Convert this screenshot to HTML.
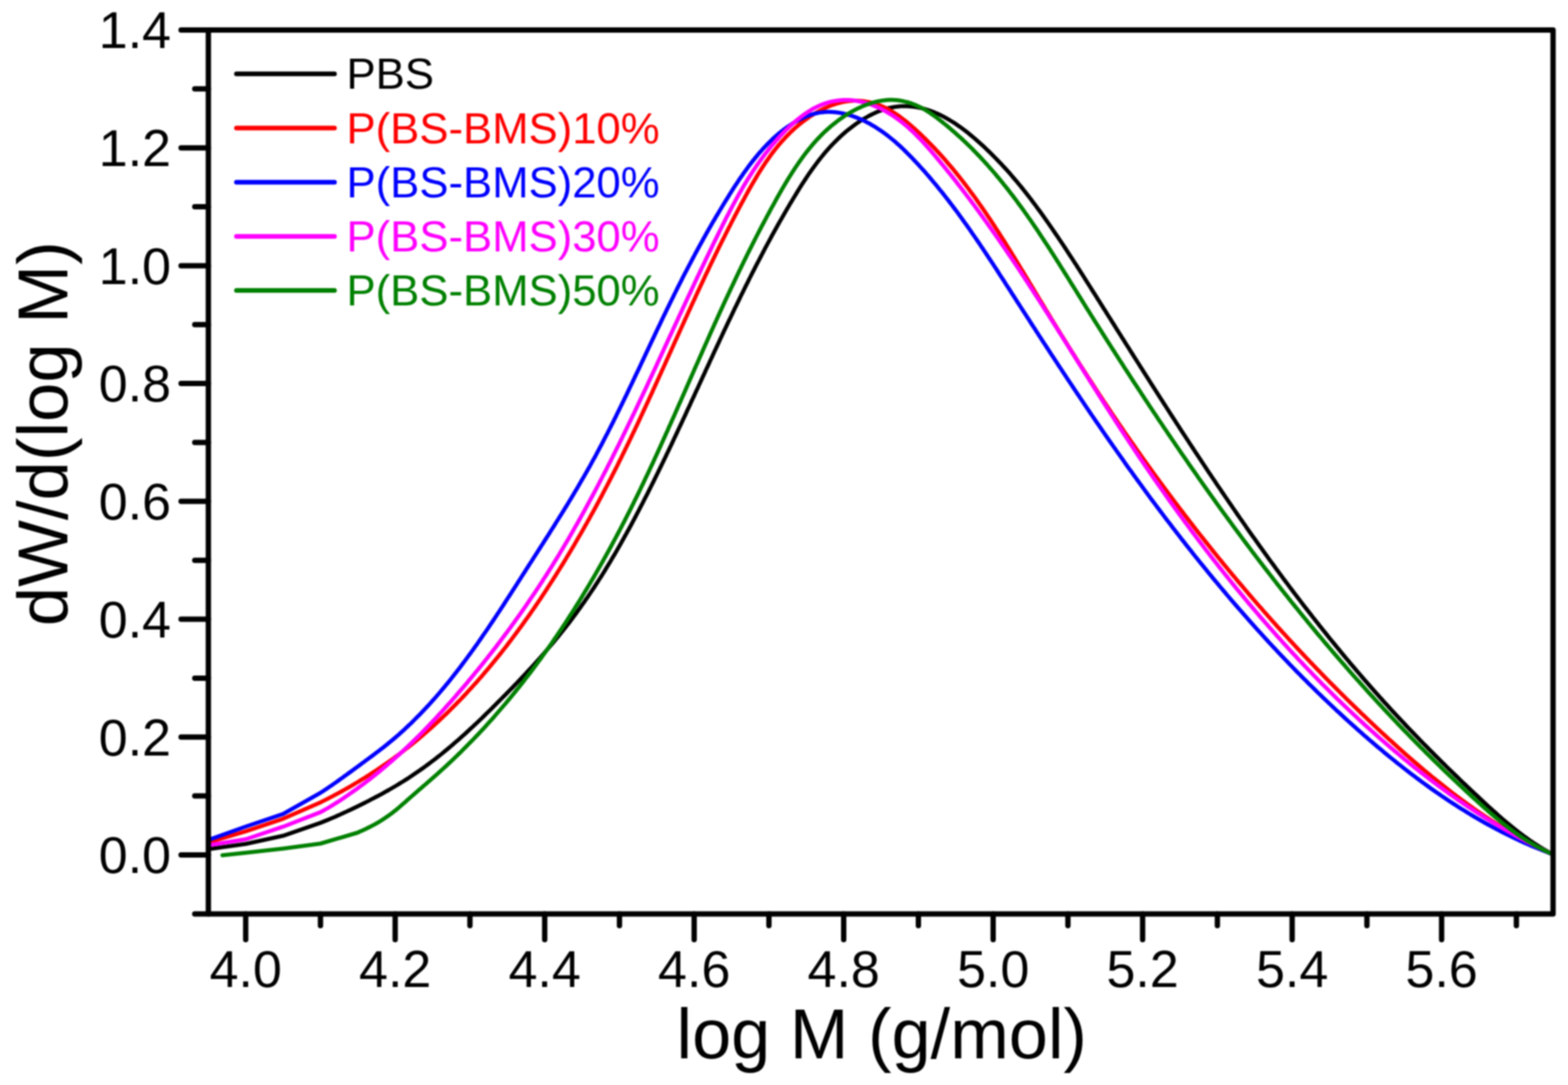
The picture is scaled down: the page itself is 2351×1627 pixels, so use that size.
<!DOCTYPE html>
<html><head><meta charset="utf-8"><title>GPC curves</title>
<style>html,body{margin:0;padding:0;background:#fff;}svg{display:block;filter:blur(0.9px);}</style></head>
<body>
<svg width="2351" height="1627" viewBox="0 0 2351 1627" font-family="Liberation Sans, Arial, sans-serif"><clipPath id="c"><rect x="312.4" y="45.0" width="2016.1999999999998" height="1325.4"/></clipPath>
<g clip-path="url(#c)" fill="none" stroke-width="6" stroke-linejoin="round" stroke-linecap="round">
<path stroke="#000000" d="M313.0,1273.3 L368.4,1265.5 L424.4,1253.3 L480.5,1233.9 L484.2,1232.4 L487.9,1230.9 L491.6,1229.4 L495.3,1227.8 L499.0,1226.3 L502.7,1224.7 L506.3,1223.0 L510.0,1221.4 L513.6,1219.7 L517.3,1218.1 L520.9,1216.4 L524.5,1214.7 L528.2,1213.0 L531.8,1211.2 L535.4,1209.5 L539.0,1207.7 L542.5,1206.0 L546.1,1204.2 L549.7,1202.4 L553.2,1200.6 L556.8,1198.7 L560.3,1196.9 L563.8,1195.0 L567.4,1193.2 L570.9,1191.3 L574.4,1189.4 L577.8,1187.4 L581.3,1185.5 L584.8,1183.5 L588.2,1181.5 L591.7,1179.5 L595.1,1177.5 L598.5,1175.4 L601.9,1173.3 L605.3,1171.2 L608.6,1169.1 L612.0,1166.9 L615.3,1164.8 L618.6,1162.6 L621.9,1160.3 L625.2,1158.1 L628.5,1155.8 L631.7,1153.5 L635.0,1151.2 L638.2,1148.9 L641.4,1146.5 L644.6,1144.1 L647.8,1141.7 L650.9,1139.3 L654.1,1136.9 L657.2,1134.4 L660.3,1132.0 L663.4,1129.5 L666.5,1126.9 L669.6,1124.4 L672.6,1121.9 L675.7,1119.3 L678.7,1116.7 L681.7,1114.1 L684.7,1111.5 L687.7,1108.9 L690.7,1106.2 L693.7,1103.6 L696.7,1100.9 L699.6,1098.2 L702.6,1095.5 L705.5,1092.8 L708.4,1090.1 L711.4,1087.3 L714.3,1084.6 L717.2,1081.8 L720.1,1079.1 L723.0,1076.3 L725.9,1073.5 L728.7,1070.7 L731.6,1067.9 L734.5,1065.1 L737.3,1062.3 L740.2,1059.4 L743.0,1056.6 L745.9,1053.7 L748.7,1050.9 L751.6,1048.0 L754.4,1045.2 L757.2,1042.3 L760.1,1039.4 L762.9,1036.5 L765.7,1033.7 L768.5,1030.8 L771.3,1027.9 L774.1,1025.0 L776.9,1022.0 L779.7,1019.1 L782.5,1016.2 L785.2,1013.3 L788.0,1010.3 L790.7,1007.4 L793.5,1004.4 L796.2,1001.4 L798.9,998.5 L801.6,995.5 L804.3,992.5 L807.0,989.5 L809.7,986.5 L812.3,983.5 L815.0,980.5 L817.6,977.5 L820.2,974.4 L822.8,971.4 L825.4,968.4 L828.0,965.3 L830.6,962.2 L833.1,959.2 L835.6,956.1 L838.1,953.0 L840.6,949.9 L843.1,946.8 L845.6,943.7 L848.0,940.6 L850.5,937.4 L852.9,934.3 L855.3,931.1 L857.7,928.0 L860.0,924.8 L862.4,921.6 L864.7,918.4 L867.0,915.3 L869.4,912.0 L871.6,908.8 L873.9,905.6 L876.2,902.4 L878.4,899.1 L880.7,895.9 L882.9,892.6 L885.1,889.4 L887.3,886.1 L889.5,882.8 L891.7,879.5 L893.8,876.2 L896.0,872.8 L898.1,869.5 L900.3,866.2 L902.4,862.8 L904.5,859.5 L906.6,856.1 L908.7,852.7 L910.7,849.3 L912.8,845.9 L914.9,842.5 L916.9,839.1 L918.9,835.6 L921.0,832.2 L923.0,828.7 L925.0,825.3 L927.0,821.8 L929.0,818.3 L931.0,814.8 L932.9,811.3 L934.9,807.8 L936.8,804.3 L938.8,800.8 L940.7,797.3 L942.7,793.7 L944.6,790.2 L946.5,786.7 L948.4,783.1 L950.3,779.6 L952.2,776.0 L954.1,772.4 L955.9,768.9 L957.8,765.3 L959.7,761.7 L961.5,758.2 L963.4,754.6 L965.2,751.0 L967.0,747.4 L968.9,743.8 L970.7,740.3 L972.5,736.7 L974.3,733.1 L976.1,729.5 L977.9,725.9 L979.7,722.3 L981.5,718.7 L983.2,715.1 L985.0,711.5 L986.8,707.9 L988.5,704.3 L990.3,700.7 L992.0,697.1 L993.8,693.5 L995.5,689.9 L997.3,686.2 L999.0,682.6 L1000.7,679.0 L1002.5,675.4 L1004.2,671.8 L1005.9,668.2 L1007.6,664.6 L1009.3,660.9 L1011.0,657.3 L1012.7,653.7 L1014.4,650.1 L1016.1,646.4 L1017.8,642.8 L1019.5,639.2 L1021.2,635.6 L1022.9,632.0 L1024.6,628.3 L1026.3,624.7 L1028.0,621.1 L1029.6,617.5 L1031.3,613.8 L1033.0,610.2 L1034.7,606.6 L1036.3,602.9 L1038.0,599.3 L1039.7,595.7 L1041.4,592.1 L1043.0,588.4 L1044.7,584.8 L1046.4,581.2 L1048.0,577.6 L1049.7,573.9 L1051.4,570.3 L1053.0,566.7 L1054.7,563.1 L1056.4,559.4 L1058.0,555.8 L1059.7,552.2 L1061.4,548.6 L1063.1,544.9 L1064.7,541.3 L1066.4,537.7 L1068.1,534.1 L1069.7,530.5 L1071.4,526.8 L1073.1,523.2 L1074.8,519.6 L1076.5,516.0 L1078.2,512.4 L1079.8,508.8 L1081.5,505.2 L1083.2,501.5 L1084.9,497.9 L1086.6,494.3 L1088.3,490.7 L1090.0,487.1 L1091.7,483.5 L1093.4,479.9 L1095.2,476.3 L1096.9,472.7 L1098.6,469.1 L1100.3,465.5 L1102.0,461.9 L1103.8,458.4 L1105.5,454.8 L1107.3,451.2 L1109.0,447.6 L1110.7,444.0 L1112.5,440.4 L1114.3,436.9 L1116.0,433.3 L1117.8,429.7 L1119.6,426.1 L1121.4,422.6 L1123.1,419.0 L1124.9,415.5 L1126.7,411.9 L1128.5,408.3 L1130.4,404.8 L1132.2,401.2 L1134.0,397.7 L1135.8,394.1 L1137.7,390.6 L1139.5,387.1 L1141.4,383.5 L1143.2,380.0 L1145.1,376.5 L1146.9,372.9 L1148.8,369.4 L1150.7,365.9 L1152.6,362.4 L1154.5,358.8 L1156.4,355.3 L1158.3,351.8 L1160.3,348.3 L1162.2,344.8 L1164.2,341.3 L1166.1,337.8 L1168.1,334.3 L1170.0,330.9 L1172.0,327.4 L1174.0,323.9 L1176.0,320.4 L1178.0,317.0 L1180.0,313.5 L1182.1,310.0 L1184.1,306.6 L1186.2,303.1 L1188.2,299.7 L1190.3,296.2 L1192.4,292.8 L1194.5,289.4 L1196.6,285.9 L1198.7,282.5 L1200.8,279.1 L1203.0,275.7 L1205.2,272.4 L1207.4,269.0 L1209.6,265.7 L1211.8,262.3 L1214.1,259.0 L1216.4,255.7 L1218.7,252.5 L1221.1,249.2 L1223.5,246.0 L1225.9,242.8 L1228.3,239.7 L1230.8,236.5 L1233.3,233.4 L1235.8,230.3 L1238.4,227.3 L1241.1,224.3 L1243.7,221.3 L1246.4,218.4 L1249.2,215.5 L1252.0,212.6 L1254.8,209.8 L1257.7,207.0 L1260.6,204.3 L1263.6,201.6 L1266.6,198.9 L1269.7,196.3 L1272.8,193.8 L1276.0,191.3 L1279.3,188.8 L1282.6,186.4 L1285.9,184.1 L1289.3,181.8 L1292.8,179.6 L1296.2,177.5 L1299.8,175.5 L1303.3,173.5 L1306.9,171.7 L1310.6,169.9 L1314.2,168.3 L1317.9,166.8 L1321.6,165.4 L1325.4,164.1 L1329.1,163.0 L1332.9,162.0 L1336.7,161.2 L1340.5,160.5 L1344.3,159.9 L1348.1,159.5 L1351.9,159.3 L1355.8,159.2 L1359.6,159.2 L1363.4,159.4 L1367.2,159.7 L1371.0,160.2 L1374.8,160.8 L1378.6,161.5 L1382.4,162.4 L1386.1,163.4 L1389.8,164.5 L1393.5,165.7 L1397.2,167.0 L1400.8,168.4 L1404.5,170.0 L1408.1,171.6 L1411.6,173.3 L1415.2,175.2 L1418.7,177.1 L1422.2,179.1 L1425.7,181.2 L1429.1,183.3 L1432.6,185.6 L1436.0,187.9 L1439.3,190.2 L1442.7,192.7 L1446.0,195.1 L1449.3,197.7 L1452.5,200.2 L1455.7,202.9 L1458.9,205.5 L1462.1,208.2 L1465.2,211.0 L1468.3,213.7 L1471.4,216.5 L1474.5,219.3 L1477.5,222.1 L1480.4,225.0 L1483.4,227.8 L1486.3,230.7 L1489.2,233.6 L1492.1,236.5 L1494.9,239.4 L1497.7,242.3 L1500.5,245.2 L1503.3,248.2 L1506.0,251.1 L1508.7,254.1 L1511.4,257.1 L1514.1,260.1 L1516.7,263.1 L1519.3,266.2 L1521.9,269.2 L1524.5,272.2 L1527.0,275.3 L1529.6,278.4 L1532.1,281.5 L1534.6,284.6 L1537.0,287.7 L1539.5,290.8 L1541.9,293.9 L1544.3,297.0 L1546.8,300.2 L1549.1,303.4 L1551.5,306.5 L1553.9,309.7 L1556.2,312.9 L1558.6,316.1 L1560.9,319.3 L1563.2,322.5 L1565.5,325.7 L1567.8,328.9 L1570.1,332.2 L1572.3,335.4 L1574.6,338.7 L1576.8,341.9 L1579.1,345.2 L1581.3,348.5 L1583.5,351.7 L1585.8,355.0 L1588.0,358.3 L1590.2,361.6 L1592.4,364.9 L1594.6,368.2 L1596.8,371.5 L1599.0,374.9 L1601.1,378.2 L1603.3,381.5 L1605.5,384.9 L1607.7,388.2 L1609.8,391.5 L1612.0,394.9 L1614.2,398.2 L1616.3,401.6 L1618.5,404.9 L1620.6,408.3 L1622.8,411.7 L1624.9,415.0 L1627.0,418.4 L1629.2,421.8 L1631.3,425.1 L1633.4,428.5 L1635.6,431.9 L1637.7,435.3 L1639.8,438.7 L1642.0,442.0 L1644.1,445.4 L1646.2,448.8 L1648.4,452.2 L1650.5,455.6 L1652.6,458.9 L1654.7,462.3 L1656.9,465.7 L1659.0,469.1 L1661.1,472.5 L1663.3,475.9 L1665.4,479.2 L1667.5,482.6 L1669.7,486.0 L1671.8,489.4 L1673.9,492.8 L1676.0,496.2 L1678.2,499.6 L1680.3,502.9 L1682.4,506.3 L1684.6,509.7 L1686.7,513.1 L1688.8,516.5 L1691.0,519.9 L1693.1,523.2 L1695.2,526.6 L1697.4,530.0 L1699.5,533.4 L1701.7,536.8 L1703.8,540.2 L1705.9,543.5 L1708.1,546.9 L1710.2,550.3 L1712.4,553.7 L1714.5,557.1 L1716.6,560.4 L1718.8,563.8 L1720.9,567.2 L1723.1,570.6 L1725.2,574.0 L1727.4,577.3 L1729.5,580.7 L1731.7,584.1 L1733.8,587.4 L1736.0,590.8 L1738.1,594.2 L1740.3,597.6 L1742.5,600.9 L1744.6,604.3 L1746.8,607.7 L1748.9,611.0 L1751.1,614.4 L1753.3,617.8 L1755.4,621.1 L1757.6,624.5 L1759.8,627.9 L1761.9,631.2 L1764.1,634.6 L1766.3,637.9 L1768.5,641.3 L1770.6,644.7 L1772.8,648.0 L1775.0,651.4 L1777.2,654.7 L1779.4,658.1 L1781.6,661.4 L1783.8,664.8 L1786.0,668.1 L1788.2,671.5 L1790.4,674.8 L1792.5,678.1 L1794.8,681.5 L1797.0,684.8 L1799.2,688.2 L1801.4,691.5 L1803.6,694.8 L1805.8,698.2 L1808.0,701.5 L1810.2,704.8 L1812.4,708.2 L1814.7,711.5 L1816.9,714.8 L1819.1,718.1 L1821.4,721.4 L1823.6,724.8 L1825.8,728.1 L1828.1,731.4 L1830.3,734.7 L1832.5,738.0 L1834.8,741.3 L1837.0,744.6 L1839.3,747.9 L1841.5,751.2 L1843.8,754.5 L1846.1,757.8 L1848.3,761.1 L1850.6,764.4 L1852.9,767.7 L1855.1,771.0 L1857.4,774.3 L1859.7,777.6 L1862.0,780.8 L1864.3,784.1 L1866.6,787.4 L1868.8,790.7 L1871.1,793.9 L1873.4,797.2 L1875.7,800.5 L1878.0,803.7 L1880.4,807.0 L1882.7,810.3 L1885.0,813.5 L1887.3,816.8 L1889.6,820.0 L1892.0,823.3 L1894.3,826.5 L1896.6,829.7 L1899.0,833.0 L1901.3,836.2 L1903.6,839.5 L1906.0,842.7 L1908.4,845.9 L1910.7,849.1 L1913.1,852.4 L1915.4,855.6 L1917.8,858.8 L1920.2,862.0 L1922.6,865.2 L1924.9,868.4 L1927.3,871.6 L1929.7,874.8 L1932.1,878.0 L1934.5,881.2 L1936.9,884.4 L1939.3,887.6 L1941.7,890.8 L1944.1,893.9 L1946.6,897.1 L1949.0,900.3 L1951.4,903.5 L1953.8,906.6 L1956.3,909.8 L1958.7,912.9 L1961.2,916.1 L1963.6,919.2 L1966.1,922.4 L1968.5,925.5 L1971.0,928.7 L1973.5,931.8 L1976.0,934.9 L1978.4,938.1 L1980.9,941.2 L1983.4,944.3 L1985.9,947.4 L1988.4,950.5 L1990.9,953.7 L1993.4,956.8 L1995.9,959.9 L1998.5,963.0 L2001.0,966.0 L2003.5,969.1 L2006.0,972.2 L2008.6,975.3 L2011.1,978.4 L2013.7,981.5 L2016.2,984.5 L2018.8,987.6 L2021.4,990.6 L2023.9,993.7 L2026.5,996.7 L2029.1,999.8 L2031.7,1002.8 L2034.3,1005.9 L2036.9,1008.9 L2039.5,1011.9 L2042.1,1015.0 L2044.7,1018.0 L2047.3,1021.0 L2050.0,1024.0 L2052.6,1027.0 L2055.2,1030.0 L2057.9,1033.0 L2060.5,1036.0 L2063.2,1039.0 L2065.9,1042.0 L2068.5,1045.0 L2071.2,1047.9 L2073.9,1050.9 L2076.6,1053.9 L2079.3,1056.8 L2082.0,1059.8 L2084.7,1062.7 L2087.4,1065.7 L2090.1,1068.6 L2092.8,1071.5 L2095.6,1074.5 L2098.3,1077.4 L2101.0,1080.3 L2103.8,1083.2 L2106.5,1086.1 L2109.3,1089.1 L2112.1,1092.0 L2114.8,1094.9 L2117.6,1097.7 L2120.4,1100.6 L2123.2,1103.5 L2126.0,1106.4 L2128.7,1109.3 L2131.5,1112.1 L2134.3,1115.0 L2137.2,1117.9 L2140.0,1120.7 L2142.8,1123.6 L2145.6,1126.4 L2148.4,1129.2 L2151.3,1132.1 L2154.1,1134.9 L2156.9,1137.7 L2159.8,1140.6 L2162.6,1143.4 L2165.5,1146.2 L2168.3,1149.0 L2171.2,1151.8 L2174.1,1154.6 L2176.9,1157.4 L2179.8,1160.2 L2182.7,1163.0 L2185.6,1165.7 L2188.4,1168.5 L2191.3,1171.3 L2194.2,1174.1 L2197.1,1176.8 L2200.0,1179.6 L2202.9,1182.3 L2205.8,1185.1 L2208.7,1187.8 L2211.6,1190.6 L2214.6,1193.3 L2217.5,1196.0 L2220.4,1198.7 L2223.3,1201.5 L2226.2,1204.2 L2229.2,1206.9 L2232.1,1209.6 L2235.1,1212.3 L2238.0,1215.0 L2241.0,1217.6 L2244.0,1220.3 L2246.9,1222.9 L2249.9,1225.6 L2252.9,1228.2 L2256.0,1230.8 L2259.0,1233.3 L2262.1,1235.9 L2265.1,1238.4 L2268.2,1240.9 L2271.3,1243.4 L2274.5,1245.9 L2277.6,1248.3 L2280.8,1250.7 L2284.0,1253.1 L2287.2,1255.5 L2290.4,1257.8 L2293.7,1260.1 L2297.0,1262.3 L2300.3,1264.6 L2303.7,1266.8 L2307.0,1268.9 L2310.5,1271.0 L2313.9,1273.1 L2317.4,1275.1 L2320.9,1277.1 L2324.4,1279.1 L2328.0,1281.0"/>
<path stroke="#ff0000" d="M313.0,1263.0 L368.4,1246.6 L424.4,1227.8 L480.5,1203.2 L484.1,1201.4 L487.7,1199.6 L491.3,1197.8 L494.8,1195.9 L498.4,1194.1 L501.9,1192.2 L505.4,1190.3 L509.0,1188.4 L512.5,1186.5 L516.0,1184.5 L519.4,1182.6 L522.9,1180.6 L526.4,1178.6 L529.8,1176.6 L533.2,1174.5 L536.7,1172.5 L540.1,1170.4 L543.5,1168.3 L546.9,1166.2 L550.2,1164.1 L553.6,1162.0 L556.9,1159.8 L560.3,1157.6 L563.6,1155.5 L566.9,1153.3 L570.2,1151.0 L573.5,1148.8 L576.7,1146.5 L580.0,1144.3 L583.3,1142.0 L586.5,1139.7 L589.7,1137.4 L592.9,1135.0 L596.1,1132.7 L599.3,1130.3 L602.5,1127.9 L605.6,1125.5 L608.8,1123.0 L611.9,1120.6 L615.0,1118.1 L618.1,1115.6 L621.2,1113.1 L624.3,1110.6 L627.3,1108.1 L630.4,1105.5 L633.4,1102.9 L636.4,1100.3 L639.4,1097.7 L642.4,1095.1 L645.4,1092.4 L648.4,1089.8 L651.4,1087.1 L654.3,1084.4 L657.2,1081.7 L660.1,1078.9 L663.0,1076.2 L665.9,1073.4 L668.8,1070.7 L671.7,1067.9 L674.5,1065.1 L677.4,1062.2 L680.2,1059.4 L683.0,1056.6 L685.8,1053.7 L688.6,1050.8 L691.4,1048.0 L694.1,1045.1 L696.9,1042.2 L699.6,1039.2 L702.3,1036.3 L705.1,1033.3 L707.8,1030.4 L710.4,1027.4 L713.1,1024.4 L715.8,1021.4 L718.4,1018.4 L721.1,1015.4 L723.7,1012.4 L726.3,1009.3 L728.9,1006.3 L731.5,1003.2 L734.1,1000.1 L736.7,997.0 L739.2,993.9 L741.8,990.8 L744.3,987.7 L746.8,984.6 L749.3,981.5 L751.8,978.3 L754.3,975.2 L756.8,972.0 L759.3,968.8 L761.7,965.6 L764.2,962.4 L766.6,959.2 L769.0,956.0 L771.4,952.8 L773.8,949.6 L776.2,946.4 L778.6,943.1 L781.0,939.9 L783.4,936.6 L785.7,933.3 L788.0,930.1 L790.4,926.8 L792.7,923.5 L795.0,920.2 L797.3,916.9 L799.6,913.6 L801.9,910.3 L804.1,907.0 L806.4,903.6 L808.6,900.3 L810.9,897.0 L813.1,893.6 L815.3,890.3 L817.6,886.9 L819.8,883.5 L821.9,880.2 L824.1,876.8 L826.3,873.4 L828.5,870.1 L830.6,866.7 L832.8,863.3 L834.9,859.9 L837.0,856.5 L839.2,853.1 L841.3,849.7 L843.4,846.3 L845.5,842.9 L847.6,839.5 L849.6,836.0 L851.7,832.6 L853.8,829.2 L855.8,825.8 L857.9,822.3 L859.9,818.9 L861.9,815.5 L863.9,812.0 L865.9,808.6 L867.9,805.1 L869.9,801.7 L871.9,798.2 L873.9,794.8 L875.9,791.3 L877.8,787.8 L879.8,784.4 L881.7,780.9 L883.7,777.4 L885.6,773.9 L887.5,770.5 L889.5,767.0 L891.4,763.5 L893.3,760.0 L895.2,756.5 L897.1,753.0 L898.9,749.5 L900.8,746.0 L902.7,742.5 L904.5,738.9 L906.4,735.4 L908.2,731.9 L910.1,728.4 L911.9,724.9 L913.7,721.3 L915.6,717.8 L917.4,714.2 L919.2,710.7 L921.0,707.2 L922.8,703.6 L924.6,700.1 L926.4,696.5 L928.1,692.9 L929.9,689.4 L931.7,685.8 L933.4,682.2 L935.2,678.7 L936.9,675.1 L938.7,671.5 L940.4,667.9 L942.2,664.4 L943.9,660.8 L945.6,657.2 L947.3,653.6 L949.0,650.0 L950.8,646.4 L952.5,642.8 L954.2,639.2 L955.9,635.6 L957.6,632.0 L959.3,628.4 L960.9,624.8 L962.6,621.2 L964.3,617.5 L966.0,613.9 L967.7,610.3 L969.3,606.7 L971.0,603.1 L972.7,599.4 L974.3,595.8 L976.0,592.2 L977.7,588.6 L979.3,584.9 L981.0,581.3 L982.6,577.7 L984.3,574.0 L985.9,570.4 L987.6,566.8 L989.2,563.1 L990.9,559.5 L992.5,555.8 L994.2,552.2 L995.8,548.6 L997.5,544.9 L999.1,541.3 L1000.8,537.6 L1002.4,534.0 L1004.1,530.3 L1005.7,526.7 L1007.3,523.0 L1009.0,519.4 L1010.6,515.8 L1012.3,512.1 L1013.9,508.5 L1015.6,504.8 L1017.2,501.2 L1018.9,497.5 L1020.5,493.9 L1022.2,490.2 L1023.8,486.6 L1025.5,482.9 L1027.1,479.3 L1028.8,475.7 L1030.5,472.0 L1032.1,468.4 L1033.8,464.7 L1035.5,461.1 L1037.1,457.4 L1038.8,453.8 L1040.5,450.2 L1042.2,446.5 L1043.8,442.9 L1045.5,439.2 L1047.2,435.6 L1048.9,432.0 L1050.6,428.3 L1052.3,424.7 L1054.0,421.1 L1055.7,417.5 L1057.4,413.8 L1059.1,410.2 L1060.9,406.6 L1062.6,403.0 L1064.3,399.3 L1066.0,395.7 L1067.8,392.1 L1069.5,388.5 L1071.3,384.9 L1073.0,381.3 L1074.8,377.7 L1076.6,374.0 L1078.3,370.4 L1080.1,366.8 L1081.9,363.2 L1083.7,359.6 L1085.5,356.1 L1087.3,352.5 L1089.1,348.9 L1090.9,345.3 L1092.7,341.7 L1094.6,338.1 L1096.4,334.5 L1098.2,331.0 L1100.1,327.4 L1101.9,323.8 L1103.8,320.3 L1105.7,316.7 L1107.6,313.1 L1109.4,309.6 L1111.3,306.0 L1113.2,302.5 L1115.2,299.0 L1117.1,295.4 L1119.0,291.9 L1121.0,288.3 L1122.9,284.8 L1124.9,281.3 L1126.9,277.8 L1128.9,274.3 L1130.9,270.9 L1133.0,267.4 L1135.0,264.0 L1137.1,260.5 L1139.2,257.1 L1141.3,253.8 L1143.5,250.4 L1145.7,247.1 L1147.9,243.7 L1150.2,240.5 L1152.5,237.2 L1154.8,234.0 L1157.1,230.8 L1159.5,227.6 L1161.9,224.5 L1164.4,221.4 L1166.9,218.3 L1169.5,215.3 L1172.1,212.3 L1174.7,209.4 L1177.4,206.5 L1180.1,203.6 L1182.9,200.8 L1185.7,198.0 L1188.6,195.3 L1191.5,192.6 L1194.5,190.0 L1197.5,187.4 L1200.6,184.9 L1203.8,182.4 L1207.0,180.0 L1210.3,177.7 L1213.6,175.4 L1217.0,173.1 L1220.5,171.0 L1224.0,168.9 L1227.6,166.9 L1231.2,164.9 L1234.8,163.1 L1238.5,161.4 L1242.3,159.7 L1246.0,158.2 L1249.8,156.9 L1253.7,155.6 L1257.5,154.5 L1261.4,153.6 L1265.3,152.7 L1269.1,152.1 L1273.0,151.6 L1276.9,151.3 L1280.8,151.1 L1284.7,151.1 L1288.6,151.2 L1292.4,151.5 L1296.3,152.0 L1300.1,152.6 L1303.9,153.3 L1307.6,154.2 L1311.4,155.3 L1315.0,156.5 L1318.7,157.8 L1322.3,159.3 L1325.9,160.9 L1329.4,162.7 L1332.9,164.5 L1336.3,166.5 L1339.7,168.6 L1343.1,170.8 L1346.5,173.0 L1349.8,175.4 L1353.0,177.8 L1356.3,180.3 L1359.5,182.9 L1362.6,185.5 L1365.8,188.2 L1368.9,190.9 L1372.0,193.6 L1375.0,196.4 L1378.0,199.2 L1381.0,202.0 L1383.9,204.9 L1386.9,207.7 L1389.8,210.6 L1392.6,213.5 L1395.5,216.4 L1398.3,219.3 L1401.1,222.2 L1403.9,225.2 L1406.6,228.1 L1409.3,231.1 L1412.0,234.1 L1414.7,237.1 L1417.4,240.1 L1420.0,243.2 L1422.6,246.2 L1425.2,249.3 L1427.8,252.3 L1430.4,255.4 L1432.9,258.5 L1435.4,261.6 L1437.9,264.7 L1440.4,267.8 L1442.9,271.0 L1445.3,274.1 L1447.7,277.3 L1450.2,280.5 L1452.6,283.7 L1454.9,286.9 L1457.3,290.1 L1459.7,293.3 L1462.0,296.5 L1464.3,299.7 L1466.6,303.0 L1468.9,306.2 L1471.2,309.5 L1473.5,312.8 L1475.7,316.1 L1478.0,319.3 L1480.2,322.6 L1482.4,325.9 L1484.7,329.2 L1486.9,332.6 L1489.1,335.9 L1491.2,339.2 L1493.4,342.6 L1495.6,345.9 L1497.7,349.2 L1499.9,352.6 L1502.0,356.0 L1504.2,359.3 L1506.3,362.7 L1508.4,366.1 L1510.5,369.4 L1512.6,372.8 L1514.7,376.2 L1516.8,379.6 L1518.9,383.0 L1521.0,386.4 L1523.1,389.8 L1525.1,393.2 L1527.2,396.6 L1529.3,400.0 L1531.3,403.4 L1533.4,406.9 L1535.5,410.3 L1537.5,413.7 L1539.6,417.1 L1541.7,420.5 L1543.7,424.0 L1545.8,427.4 L1547.8,430.8 L1549.9,434.2 L1552.0,437.7 L1554.0,441.1 L1556.1,444.5 L1558.1,447.9 L1560.2,451.3 L1562.3,454.8 L1564.4,458.2 L1566.4,461.6 L1568.5,465.0 L1570.6,468.4 L1572.7,471.8 L1574.8,475.3 L1576.8,478.7 L1578.9,482.1 L1581.0,485.5 L1583.1,488.9 L1585.2,492.3 L1587.3,495.7 L1589.4,499.1 L1591.5,502.5 L1593.7,505.9 L1595.8,509.3 L1597.9,512.7 L1600.0,516.1 L1602.1,519.5 L1604.3,522.9 L1606.4,526.3 L1608.5,529.6 L1610.7,533.0 L1612.8,536.4 L1614.9,539.8 L1617.1,543.2 L1619.2,546.6 L1621.4,549.9 L1623.6,553.3 L1625.7,556.7 L1627.9,560.0 L1630.0,563.4 L1632.2,566.8 L1634.4,570.1 L1636.6,573.5 L1638.8,576.9 L1640.9,580.2 L1643.1,583.6 L1645.3,586.9 L1647.5,590.3 L1649.7,593.6 L1651.9,597.0 L1654.1,600.3 L1656.3,603.6 L1658.5,607.0 L1660.8,610.3 L1663.0,613.6 L1665.2,617.0 L1667.4,620.3 L1669.7,623.6 L1671.9,626.9 L1674.2,630.2 L1676.4,633.6 L1678.7,636.9 L1680.9,640.2 L1683.2,643.5 L1685.4,646.8 L1687.7,650.1 L1690.0,653.4 L1692.3,656.7 L1694.5,660.0 L1696.8,663.2 L1699.1,666.5 L1701.4,669.8 L1703.7,673.1 L1706.0,676.4 L1708.3,679.6 L1710.6,682.9 L1712.9,686.2 L1715.2,689.4 L1717.6,692.7 L1719.9,695.9 L1722.2,699.2 L1724.6,702.4 L1726.9,705.7 L1729.2,708.9 L1731.6,712.2 L1733.9,715.4 L1736.3,718.6 L1738.7,721.9 L1741.0,725.1 L1743.4,728.3 L1745.8,731.5 L1748.1,734.7 L1750.5,737.9 L1752.9,741.2 L1755.3,744.4 L1757.7,747.6 L1760.1,750.8 L1762.5,754.0 L1764.9,757.1 L1767.3,760.3 L1769.7,763.5 L1772.2,766.7 L1774.6,769.9 L1777.0,773.0 L1779.5,776.2 L1781.9,779.4 L1784.3,782.5 L1786.8,785.7 L1789.2,788.9 L1791.7,792.0 L1794.1,795.2 L1796.6,798.3 L1799.1,801.5 L1801.6,804.6 L1804.0,807.7 L1806.5,810.9 L1809.0,814.0 L1811.5,817.1 L1814.0,820.2 L1816.5,823.4 L1819.0,826.5 L1821.5,829.6 L1824.0,832.7 L1826.5,835.8 L1829.1,838.9 L1831.6,842.0 L1834.1,845.1 L1836.7,848.2 L1839.2,851.2 L1841.7,854.3 L1844.3,857.4 L1846.8,860.5 L1849.4,863.5 L1852.0,866.6 L1854.5,869.7 L1857.1,872.7 L1859.7,875.8 L1862.3,878.8 L1864.9,881.9 L1867.4,884.9 L1870.0,887.9 L1872.6,891.0 L1875.2,894.0 L1877.8,897.0 L1880.5,900.1 L1883.1,903.1 L1885.7,906.1 L1888.3,909.1 L1891.0,912.1 L1893.6,915.1 L1896.2,918.1 L1898.9,921.1 L1901.5,924.1 L1904.2,927.1 L1906.8,930.1 L1909.5,933.0 L1912.2,936.0 L1914.8,939.0 L1917.5,942.0 L1920.2,944.9 L1922.9,947.9 L1925.6,950.8 L1928.3,953.8 L1931.0,956.7 L1933.7,959.7 L1936.4,962.6 L1939.1,965.5 L1941.8,968.5 L1944.5,971.4 L1947.3,974.3 L1950.0,977.2 L1952.7,980.1 L1955.5,983.1 L1958.2,986.0 L1961.0,988.9 L1963.7,991.8 L1966.5,994.6 L1969.2,997.5 L1972.0,1000.4 L1974.8,1003.3 L1977.6,1006.2 L1980.3,1009.0 L1983.1,1011.9 L1985.9,1014.8 L1988.7,1017.6 L1991.5,1020.5 L1994.3,1023.3 L1997.1,1026.2 L2000.0,1029.0 L2002.8,1031.8 L2005.6,1034.7 L2008.4,1037.5 L2011.3,1040.3 L2014.1,1043.1 L2017.0,1046.0 L2019.8,1048.8 L2022.7,1051.6 L2025.5,1054.4 L2028.4,1057.2 L2031.3,1060.0 L2034.1,1062.7 L2037.0,1065.5 L2039.9,1068.3 L2042.8,1071.1 L2045.7,1073.8 L2048.6,1076.6 L2051.5,1079.4 L2054.4,1082.1 L2057.3,1084.9 L2060.2,1087.6 L2063.1,1090.4 L2066.0,1093.1 L2069.0,1095.8 L2071.9,1098.6 L2074.8,1101.3 L2077.8,1104.0 L2080.7,1106.7 L2083.7,1109.4 L2086.7,1112.1 L2089.6,1114.8 L2092.6,1117.5 L2095.6,1120.2 L2098.6,1122.9 L2101.5,1125.5 L2104.5,1128.2 L2107.5,1130.9 L2110.5,1133.5 L2113.6,1136.2 L2116.6,1138.8 L2119.6,1141.4 L2122.6,1144.0 L2125.7,1146.6 L2128.7,1149.2 L2131.8,1151.8 L2134.8,1154.4 L2137.9,1157.0 L2141.0,1159.6 L2144.0,1162.1 L2147.1,1164.7 L2150.2,1167.2 L2153.3,1169.7 L2156.4,1172.2 L2159.6,1174.7 L2162.7,1177.2 L2165.8,1179.7 L2169.0,1182.2 L2172.1,1184.6 L2175.3,1187.1 L2178.4,1189.5 L2181.6,1191.9 L2184.8,1194.3 L2188.0,1196.7 L2191.2,1199.1 L2194.4,1201.5 L2197.6,1203.8 L2200.9,1206.2 L2204.1,1208.5 L2207.4,1210.8 L2210.6,1213.1 L2213.9,1215.4 L2217.2,1217.7 L2220.5,1219.9 L2223.8,1222.2 L2227.1,1224.4 L2230.4,1226.6 L2233.7,1228.8 L2237.1,1231.0 L2240.4,1233.1 L2243.8,1235.3 L2247.2,1237.4 L2250.5,1239.5 L2253.9,1241.6 L2257.3,1243.6 L2260.8,1245.7 L2264.2,1247.7 L2267.6,1249.7 L2271.1,1251.7 L2274.5,1253.7 L2278.0,1255.7 L2281.5,1257.6 L2285.0,1259.5 L2288.5,1261.5 L2292.0,1263.3 L2295.6,1265.2 L2299.1,1267.0 L2302.7,1268.9 L2306.3,1270.7 L2309.9,1272.4 L2313.5,1274.2 L2317.1,1275.9 L2320.7,1277.6 L2324.3,1279.3 L2328.0,1281.0"/>
<path stroke="#0000ff" d="M313.0,1259.3 L368.4,1239.5 L424.4,1220.6 L480.5,1188.8 L483.9,1186.7 L487.2,1184.4 L490.6,1182.2 L493.9,1179.9 L497.2,1177.7 L500.5,1175.4 L503.8,1173.1 L507.1,1170.7 L510.3,1168.4 L513.6,1166.1 L516.8,1163.7 L520.1,1161.4 L523.3,1159.0 L526.5,1156.7 L529.7,1154.3 L532.9,1152.0 L536.2,1149.6 L539.4,1147.3 L542.5,1144.9 L545.7,1142.6 L548.9,1140.2 L552.1,1137.9 L555.2,1135.5 L558.4,1133.2 L561.5,1130.8 L564.7,1128.4 L567.8,1126.1 L570.9,1123.7 L574.0,1121.3 L577.1,1118.8 L580.2,1116.4 L583.2,1113.9 L586.3,1111.4 L589.3,1108.9 L592.3,1106.4 L595.3,1103.8 L598.3,1101.2 L601.2,1098.5 L604.1,1095.9 L607.1,1093.2 L609.9,1090.5 L612.8,1087.8 L615.7,1085.1 L618.5,1082.3 L621.3,1079.5 L624.1,1076.7 L626.9,1073.9 L629.7,1071.1 L632.4,1068.2 L635.1,1065.4 L637.8,1062.5 L640.5,1059.6 L643.2,1056.7 L645.9,1053.8 L648.5,1050.8 L651.2,1047.9 L653.8,1044.9 L656.4,1041.9 L659.0,1038.9 L661.5,1035.9 L664.1,1032.8 L666.6,1029.8 L669.1,1026.7 L671.7,1023.7 L674.2,1020.6 L676.6,1017.5 L679.1,1014.4 L681.6,1011.2 L684.0,1008.1 L686.5,1004.9 L688.9,1001.8 L691.3,998.6 L693.7,995.4 L696.1,992.2 L698.5,989.0 L700.9,985.8 L703.2,982.6 L705.6,979.4 L707.9,976.1 L710.2,972.9 L712.6,969.6 L714.9,966.4 L717.2,963.1 L719.5,959.8 L721.8,956.5 L724.0,953.2 L726.3,949.9 L728.6,946.6 L730.8,943.3 L733.1,940.0 L735.3,936.7 L737.6,933.3 L739.8,930.0 L742.0,926.6 L744.2,923.3 L746.4,919.9 L748.7,916.6 L750.9,913.2 L753.1,909.9 L755.3,906.5 L757.4,903.1 L759.6,899.7 L761.8,896.4 L764.0,893.0 L766.2,889.6 L768.4,886.2 L770.5,882.8 L772.7,879.5 L774.9,876.1 L777.0,872.7 L779.2,869.3 L781.4,865.9 L783.5,862.5 L785.7,859.2 L787.8,855.8 L790.0,852.4 L792.2,849.0 L794.3,845.6 L796.5,842.3 L798.7,838.9 L800.8,835.5 L803.0,832.1 L805.1,828.8 L807.3,825.4 L809.5,822.0 L811.6,818.6 L813.8,815.3 L815.9,811.9 L818.1,808.5 L820.2,805.2 L822.4,801.8 L824.5,798.4 L826.6,795.0 L828.8,791.7 L830.9,788.3 L833.0,784.9 L835.1,781.5 L837.3,778.1 L839.4,774.7 L841.5,771.4 L843.6,768.0 L845.7,764.6 L847.8,761.2 L849.9,757.8 L851.9,754.4 L854.0,751.0 L856.1,747.6 L858.1,744.2 L860.2,740.7 L862.2,737.3 L864.3,733.9 L866.3,730.5 L868.3,727.0 L870.3,723.6 L872.3,720.1 L874.3,716.7 L876.3,713.2 L878.3,709.8 L880.3,706.3 L882.2,702.8 L884.2,699.4 L886.1,695.9 L888.0,692.4 L889.9,688.9 L891.9,685.4 L893.8,681.9 L895.6,678.4 L897.5,674.8 L899.4,671.3 L901.3,667.8 L903.1,664.3 L905.0,660.7 L906.8,657.2 L908.6,653.6 L910.5,650.1 L912.3,646.5 L914.1,643.0 L915.9,639.4 L917.7,635.8 L919.5,632.3 L921.3,628.7 L923.1,625.1 L924.8,621.5 L926.6,617.9 L928.4,614.3 L930.1,610.8 L931.9,607.2 L933.6,603.6 L935.4,600.0 L937.1,596.4 L938.9,592.8 L940.6,589.2 L942.3,585.6 L944.0,582.0 L945.8,578.3 L947.5,574.7 L949.2,571.1 L950.9,567.5 L952.6,563.9 L954.3,560.3 L956.1,556.7 L957.8,553.1 L959.5,549.4 L961.2,545.8 L962.9,542.2 L964.6,538.6 L966.3,535.0 L968.0,531.4 L969.7,527.7 L971.4,524.1 L973.1,520.5 L974.8,516.9 L976.5,513.3 L978.2,509.7 L979.9,506.1 L981.6,502.5 L983.3,498.9 L985.0,495.3 L986.7,491.7 L988.5,488.1 L990.2,484.5 L991.9,480.9 L993.6,477.3 L995.3,473.7 L997.1,470.1 L998.8,466.5 L1000.5,462.9 L1002.3,459.4 L1004.0,455.8 L1005.8,452.2 L1007.5,448.7 L1009.3,445.1 L1011.0,441.5 L1012.8,438.0 L1014.6,434.4 L1016.3,430.9 L1018.1,427.3 L1019.9,423.8 L1021.7,420.3 L1023.5,416.7 L1025.3,413.2 L1027.1,409.7 L1029.0,406.1 L1030.8,402.6 L1032.6,399.1 L1034.5,395.6 L1036.3,392.1 L1038.2,388.5 L1040.1,385.0 L1041.9,381.5 L1043.8,378.0 L1045.7,374.5 L1047.6,371.0 L1049.5,367.5 L1051.5,364.0 L1053.4,360.5 L1055.3,357.0 L1057.3,353.5 L1059.2,350.0 L1061.2,346.5 L1063.2,343.1 L1065.2,339.6 L1067.2,336.1 L1069.2,332.6 L1071.3,329.1 L1073.3,325.6 L1075.4,322.1 L1077.4,318.7 L1079.5,315.2 L1081.6,311.7 L1083.7,308.2 L1085.8,304.7 L1087.9,301.3 L1090.1,297.8 L1092.3,294.3 L1094.4,290.8 L1096.6,287.4 L1098.8,283.9 L1101.0,280.4 L1103.3,277.0 L1105.6,273.6 L1107.8,270.2 L1110.1,266.8 L1112.5,263.4 L1114.8,260.0 L1117.2,256.7 L1119.6,253.4 L1122.0,250.1 L1124.4,246.9 L1126.9,243.6 L1129.4,240.5 L1131.9,237.3 L1134.5,234.2 L1137.0,231.1 L1139.7,228.1 L1142.3,225.1 L1145.0,222.1 L1147.7,219.2 L1150.4,216.4 L1153.2,213.6 L1156.0,210.8 L1158.8,208.1 L1161.7,205.5 L1164.6,202.9 L1167.6,200.4 L1170.6,197.9 L1173.6,195.5 L1176.7,193.2 L1179.8,191.0 L1183.0,188.8 L1186.2,186.6 L1189.4,184.6 L1192.7,182.6 L1196.1,180.7 L1199.4,179.0 L1202.9,177.3 L1206.4,175.7 L1209.9,174.2 L1213.5,172.9 L1217.1,171.7 L1220.8,170.6 L1224.5,169.7 L1228.3,168.9 L1232.1,168.4 L1236.0,168.0 L1239.9,167.8 L1243.9,167.7 L1248.0,167.9 L1252.0,168.2 L1256.1,168.7 L1260.2,169.4 L1264.3,170.2 L1268.4,171.2 L1272.5,172.3 L1276.5,173.5 L1280.5,174.9 L1284.5,176.4 L1288.4,178.0 L1292.3,179.6 L1296.0,181.4 L1299.7,183.3 L1303.4,185.2 L1307.0,187.3 L1310.5,189.3 L1313.9,191.5 L1317.3,193.7 L1320.7,196.0 L1324.0,198.3 L1327.2,200.6 L1330.4,203.0 L1333.5,205.5 L1336.6,208.0 L1339.7,210.5 L1342.7,213.1 L1345.6,215.7 L1348.6,218.3 L1351.5,221.0 L1354.3,223.7 L1357.2,226.5 L1360.0,229.3 L1362.8,232.1 L1365.5,234.9 L1368.3,237.7 L1371.0,240.6 L1373.7,243.5 L1376.4,246.3 L1379.0,249.3 L1381.7,252.2 L1384.3,255.1 L1387.0,258.1 L1389.6,261.1 L1392.2,264.0 L1394.7,267.0 L1397.3,270.1 L1399.8,273.1 L1402.4,276.1 L1404.9,279.2 L1407.4,282.3 L1409.9,285.3 L1412.4,288.4 L1414.9,291.5 L1417.3,294.7 L1419.8,297.8 L1422.2,300.9 L1424.6,304.1 L1427.0,307.3 L1429.4,310.4 L1431.8,313.6 L1434.2,316.8 L1436.6,320.0 L1438.9,323.3 L1441.3,326.5 L1443.6,329.7 L1445.9,333.0 L1448.3,336.2 L1450.6,339.5 L1452.9,342.7 L1455.2,346.0 L1457.4,349.3 L1459.7,352.6 L1462.0,355.9 L1464.3,359.2 L1466.5,362.5 L1468.8,365.8 L1471.0,369.2 L1473.3,372.5 L1475.5,375.8 L1477.7,379.2 L1479.9,382.5 L1482.1,385.8 L1484.4,389.2 L1486.6,392.6 L1488.8,395.9 L1491.0,399.3 L1493.2,402.6 L1495.4,406.0 L1497.5,409.4 L1499.7,412.8 L1501.9,416.1 L1504.1,419.5 L1506.3,422.9 L1508.4,426.3 L1510.6,429.6 L1512.8,433.0 L1515.0,436.4 L1517.1,439.8 L1519.3,443.2 L1521.5,446.5 L1523.6,449.9 L1525.8,453.3 L1528.0,456.7 L1530.1,460.0 L1532.3,463.4 L1534.5,466.8 L1536.7,470.1 L1538.8,473.5 L1541.0,476.9 L1543.2,480.2 L1545.3,483.6 L1547.5,487.0 L1549.7,490.3 L1551.9,493.7 L1554.0,497.1 L1556.2,500.4 L1558.4,503.8 L1560.6,507.1 L1562.7,510.5 L1564.9,513.8 L1567.1,517.2 L1569.3,520.5 L1571.5,523.9 L1573.6,527.2 L1575.8,530.6 L1578.0,533.9 L1580.2,537.2 L1582.4,540.6 L1584.6,543.9 L1586.8,547.3 L1589.0,550.6 L1591.2,553.9 L1593.4,557.3 L1595.6,560.6 L1597.8,563.9 L1600.0,567.3 L1602.2,570.6 L1604.4,573.9 L1606.6,577.2 L1608.8,580.5 L1611.0,583.9 L1613.2,587.2 L1615.4,590.5 L1617.7,593.8 L1619.9,597.1 L1622.1,600.4 L1624.3,603.7 L1626.6,607.1 L1628.8,610.4 L1631.0,613.7 L1633.3,617.0 L1635.5,620.3 L1637.8,623.6 L1640.0,626.9 L1642.3,630.2 L1644.5,633.5 L1646.8,636.7 L1649.0,640.0 L1651.3,643.3 L1653.5,646.6 L1655.8,649.9 L1658.1,653.2 L1660.4,656.5 L1662.6,659.7 L1664.9,663.0 L1667.2,666.3 L1669.5,669.6 L1671.8,672.8 L1674.1,676.1 L1676.4,679.4 L1678.7,682.6 L1681.0,685.9 L1683.3,689.1 L1685.6,692.4 L1687.9,695.7 L1690.2,698.9 L1692.5,702.2 L1694.9,705.4 L1697.2,708.6 L1699.5,711.9 L1701.9,715.1 L1704.2,718.4 L1706.6,721.6 L1708.9,724.8 L1711.3,728.1 L1713.6,731.3 L1716.0,734.5 L1718.3,737.7 L1720.7,741.0 L1723.1,744.2 L1725.4,747.4 L1727.8,750.6 L1730.2,753.8 L1732.6,757.0 L1735.0,760.2 L1737.4,763.4 L1739.8,766.6 L1742.2,769.8 L1744.6,773.0 L1747.0,776.2 L1749.4,779.4 L1751.8,782.5 L1754.3,785.7 L1756.7,788.9 L1759.1,792.1 L1761.6,795.2 L1764.0,798.4 L1766.4,801.5 L1768.9,804.7 L1771.3,807.9 L1773.8,811.0 L1776.3,814.2 L1778.7,817.3 L1781.2,820.4 L1783.7,823.6 L1786.2,826.7 L1788.6,829.8 L1791.1,833.0 L1793.6,836.1 L1796.1,839.2 L1798.6,842.3 L1801.1,845.4 L1803.7,848.5 L1806.2,851.6 L1808.7,854.7 L1811.2,857.8 L1813.7,860.9 L1816.3,864.0 L1818.8,867.1 L1821.4,870.2 L1823.9,873.2 L1826.5,876.3 L1829.0,879.4 L1831.6,882.4 L1834.2,885.5 L1836.8,888.5 L1839.3,891.6 L1841.9,894.6 L1844.5,897.7 L1847.1,900.7 L1849.7,903.7 L1852.3,906.8 L1854.9,909.8 L1857.5,912.8 L1860.2,915.8 L1862.8,918.8 L1865.4,921.8 L1868.1,924.8 L1870.7,927.8 L1873.3,930.8 L1876.0,933.8 L1878.7,936.8 L1881.3,939.7 L1884.0,942.7 L1886.7,945.7 L1889.3,948.6 L1892.0,951.6 L1894.7,954.5 L1897.4,957.5 L1900.1,960.4 L1902.8,963.4 L1905.5,966.3 L1908.2,969.2 L1911.0,972.1 L1913.7,975.0 L1916.4,978.0 L1919.2,980.9 L1921.9,983.8 L1924.7,986.7 L1927.4,989.5 L1930.2,992.4 L1933.0,995.3 L1935.7,998.2 L1938.5,1001.0 L1941.3,1003.9 L1944.1,1006.8 L1946.9,1009.6 L1949.7,1012.4 L1952.5,1015.3 L1955.3,1018.1 L1958.2,1020.9 L1961.0,1023.8 L1963.8,1026.6 L1966.7,1029.4 L1969.5,1032.2 L1972.4,1035.0 L1975.2,1037.8 L1978.1,1040.6 L1981.0,1043.3 L1983.8,1046.1 L1986.7,1048.9 L1989.6,1051.6 L1992.5,1054.4 L1995.4,1057.1 L1998.3,1059.9 L2001.2,1062.6 L2004.1,1065.4 L2007.1,1068.1 L2010.0,1070.8 L2013.0,1073.5 L2015.9,1076.2 L2018.9,1078.9 L2021.8,1081.6 L2024.8,1084.3 L2027.8,1087.0 L2030.7,1089.6 L2033.7,1092.3 L2036.7,1095.0 L2039.7,1097.6 L2042.7,1100.3 L2045.7,1102.9 L2048.8,1105.5 L2051.8,1108.2 L2054.8,1110.8 L2057.9,1113.4 L2060.9,1116.0 L2064.0,1118.6 L2067.0,1121.2 L2070.1,1123.7 L2073.2,1126.3 L2076.2,1128.9 L2079.3,1131.4 L2082.4,1134.0 L2085.5,1136.5 L2088.7,1139.0 L2091.8,1141.5 L2094.9,1144.1 L2098.0,1146.5 L2101.2,1149.0 L2104.3,1151.5 L2107.5,1154.0 L2110.6,1156.4 L2113.8,1158.9 L2117.0,1161.3 L2120.2,1163.7 L2123.4,1166.1 L2126.6,1168.5 L2129.8,1170.9 L2133.0,1173.3 L2136.3,1175.6 L2139.5,1178.0 L2142.7,1180.3 L2146.0,1182.7 L2149.3,1185.0 L2152.5,1187.3 L2155.8,1189.5 L2159.1,1191.8 L2162.4,1194.1 L2165.7,1196.3 L2169.0,1198.5 L2172.3,1200.8 L2175.7,1203.0 L2179.0,1205.1 L2182.4,1207.3 L2185.7,1209.5 L2189.1,1211.6 L2192.5,1213.7 L2195.9,1215.8 L2199.2,1217.9 L2202.7,1220.0 L2206.1,1222.1 L2209.5,1224.1 L2212.9,1226.1 L2216.4,1228.1 L2219.8,1230.1 L2223.3,1232.1 L2226.7,1234.1 L2230.2,1236.0 L2233.7,1237.9 L2237.2,1239.8 L2240.7,1241.7 L2244.2,1243.6 L2247.8,1245.4 L2251.3,1247.3 L2254.9,1249.1 L2258.4,1250.9 L2262.0,1252.6 L2265.6,1254.4 L2269.1,1256.1 L2272.7,1257.8 L2276.4,1259.5 L2280.0,1261.2 L2283.6,1262.9 L2287.2,1264.5 L2290.9,1266.1 L2294.6,1267.7 L2298.2,1269.3 L2301.9,1270.8 L2305.6,1272.3 L2309.3,1273.8 L2313.0,1275.3 L2316.8,1276.8 L2320.5,1278.2 L2324.2,1279.6 L2328.0,1281.0"/>
<path stroke="#ff00ff" d="M313.0,1267.5 L368.4,1258.5 L424.4,1239.7 L480.5,1217.9 L484.0,1216.0 L487.5,1214.0 L491.0,1212.0 L494.5,1210.0 L497.9,1207.9 L501.3,1205.7 L504.7,1203.6 L508.1,1201.4 L511.5,1199.2 L514.9,1196.9 L518.2,1194.7 L521.5,1192.4 L524.8,1190.1 L528.1,1187.8 L531.4,1185.5 L534.6,1183.2 L537.9,1180.8 L541.1,1178.4 L544.3,1176.1 L547.5,1173.6 L550.7,1171.2 L553.9,1168.8 L557.0,1166.3 L560.2,1163.9 L563.3,1161.4 L566.4,1158.9 L569.5,1156.4 L572.6,1153.8 L575.6,1151.3 L578.7,1148.7 L581.7,1146.1 L584.7,1143.5 L587.7,1140.9 L590.7,1138.3 L593.7,1135.6 L596.7,1133.0 L599.6,1130.3 L602.6,1127.6 L605.5,1124.9 L608.4,1122.2 L611.3,1119.5 L614.2,1116.7 L617.0,1114.0 L619.9,1111.2 L622.7,1108.4 L625.6,1105.6 L628.4,1102.8 L631.2,1100.0 L634.0,1097.1 L636.8,1094.3 L639.6,1091.4 L642.3,1088.6 L645.1,1085.7 L647.8,1082.8 L650.6,1079.9 L653.3,1077.0 L656.0,1074.1 L658.7,1071.1 L661.4,1068.2 L664.1,1065.2 L666.8,1062.3 L669.4,1059.3 L672.1,1056.3 L674.7,1053.4 L677.4,1050.4 L680.0,1047.4 L682.7,1044.4 L685.3,1041.3 L687.9,1038.3 L690.5,1035.3 L693.1,1032.3 L695.7,1029.2 L698.3,1026.2 L700.9,1023.1 L703.4,1020.0 L706.0,1017.0 L708.5,1013.9 L711.1,1010.8 L713.6,1007.7 L716.2,1004.6 L718.7,1001.5 L721.2,998.4 L723.7,995.3 L726.2,992.2 L728.7,989.0 L731.2,985.9 L733.6,982.7 L736.1,979.6 L738.6,976.4 L741.0,973.3 L743.5,970.1 L745.9,966.9 L748.3,963.7 L750.7,960.5 L753.1,957.3 L755.5,954.1 L757.9,950.9 L760.3,947.7 L762.7,944.5 L765.1,941.3 L767.4,938.0 L769.8,934.8 L772.1,931.5 L774.4,928.3 L776.8,925.0 L779.1,921.7 L781.4,918.5 L783.7,915.2 L786.0,911.9 L788.3,908.6 L790.5,905.3 L792.8,902.0 L795.0,898.7 L797.3,895.4 L799.5,892.1 L801.8,888.8 L804.0,885.4 L806.2,882.1 L808.4,878.8 L810.6,875.4 L812.8,872.1 L814.9,868.7 L817.1,865.4 L819.3,862.0 L821.4,858.6 L823.6,855.2 L825.7,851.9 L827.8,848.5 L829.9,845.1 L832.0,841.7 L834.1,838.3 L836.2,834.9 L838.3,831.5 L840.3,828.0 L842.4,824.6 L844.5,821.2 L846.5,817.8 L848.5,814.3 L850.6,810.9 L852.6,807.4 L854.6,804.0 L856.6,800.5 L858.6,797.1 L860.6,793.6 L862.5,790.1 L864.5,786.7 L866.5,783.2 L868.4,779.7 L870.4,776.2 L872.3,772.7 L874.3,769.3 L876.2,765.8 L878.1,762.3 L880.0,758.8 L881.9,755.3 L883.8,751.7 L885.7,748.2 L887.6,744.7 L889.5,741.2 L891.4,737.7 L893.3,734.1 L895.1,730.6 L897.0,727.1 L898.8,723.5 L900.7,720.0 L902.5,716.5 L904.4,712.9 L906.2,709.4 L908.0,705.8 L909.8,702.3 L911.6,698.7 L913.5,695.1 L915.3,691.6 L917.1,688.0 L918.9,684.4 L920.6,680.9 L922.4,677.3 L924.2,673.7 L926.0,670.1 L927.8,666.6 L929.5,663.0 L931.3,659.4 L933.1,655.8 L934.8,652.2 L936.6,648.6 L938.3,645.0 L940.1,641.4 L941.8,637.8 L943.5,634.2 L945.3,630.6 L947.0,627.0 L948.7,623.4 L950.5,619.8 L952.2,616.2 L953.9,612.6 L955.6,609.0 L957.3,605.4 L959.0,601.8 L960.7,598.2 L962.5,594.5 L964.2,590.9 L965.9,587.3 L967.6,583.7 L969.3,580.1 L971.0,576.4 L972.6,572.8 L974.3,569.2 L976.0,565.6 L977.7,561.9 L979.4,558.3 L981.1,554.7 L982.8,551.1 L984.5,547.4 L986.1,543.8 L987.8,540.2 L989.5,536.5 L991.2,532.9 L992.9,529.3 L994.5,525.7 L996.2,522.0 L997.9,518.4 L999.6,514.8 L1001.3,511.1 L1002.9,507.5 L1004.6,503.9 L1006.3,500.2 L1008.0,496.6 L1009.6,493.0 L1011.3,489.4 L1013.0,485.7 L1014.7,482.1 L1016.4,478.5 L1018.0,474.8 L1019.7,471.2 L1021.4,467.6 L1023.1,464.0 L1024.8,460.3 L1026.5,456.7 L1028.1,453.1 L1029.8,449.5 L1031.5,445.8 L1033.2,442.2 L1034.9,438.6 L1036.6,435.0 L1038.3,431.4 L1040.0,427.8 L1041.7,424.1 L1043.4,420.5 L1045.1,416.9 L1046.8,413.3 L1048.5,409.7 L1050.2,406.1 L1051.9,402.5 L1053.7,398.9 L1055.4,395.3 L1057.1,391.7 L1058.8,388.1 L1060.5,384.5 L1062.3,380.9 L1064.0,377.3 L1065.8,373.7 L1067.5,370.1 L1069.2,366.5 L1071.0,362.9 L1072.7,359.4 L1074.5,355.8 L1076.3,352.2 L1078.0,348.6 L1079.8,345.0 L1081.6,341.5 L1083.3,337.9 L1085.1,334.3 L1086.9,330.8 L1088.7,327.2 L1090.5,323.7 L1092.4,320.2 L1094.2,316.6 L1096.1,313.1 L1097.9,309.6 L1099.8,306.1 L1101.7,302.6 L1103.6,299.1 L1105.5,295.6 L1107.5,292.1 L1109.4,288.7 L1111.4,285.2 L1113.4,281.8 L1115.4,278.3 L1117.5,274.9 L1119.5,271.5 L1121.6,268.1 L1123.7,264.8 L1125.9,261.4 L1128.0,258.1 L1130.2,254.7 L1132.5,251.4 L1134.7,248.1 L1137.0,244.9 L1139.3,241.6 L1141.7,238.4 L1144.0,235.2 L1146.4,231.9 L1148.9,228.8 L1151.4,225.6 L1153.9,222.5 L1156.4,219.3 L1159.0,216.3 L1161.7,213.2 L1164.3,210.1 L1167.1,207.1 L1169.8,204.1 L1172.6,201.1 L1175.4,198.2 L1178.3,195.2 L1181.3,192.3 L1184.2,189.5 L1187.2,186.7 L1190.3,183.9 L1193.4,181.3 L1196.6,178.6 L1199.8,176.1 L1203.0,173.6 L1206.3,171.2 L1209.6,169.0 L1213.0,166.8 L1216.4,164.7 L1219.9,162.7 L1223.4,160.9 L1226.9,159.2 L1230.5,157.6 L1234.2,156.1 L1237.9,154.8 L1241.6,153.7 L1245.4,152.7 L1249.2,151.9 L1253.1,151.2 L1256.9,150.7 L1260.8,150.3 L1264.8,150.1 L1268.7,150.0 L1272.6,150.1 L1276.6,150.3 L1280.5,150.7 L1284.5,151.3 L1288.4,152.0 L1292.3,152.8 L1296.2,153.8 L1300.0,154.9 L1303.8,156.1 L1307.6,157.4 L1311.3,158.9 L1315.0,160.5 L1318.6,162.1 L1322.1,163.9 L1325.6,165.7 L1329.1,167.6 L1332.5,169.6 L1335.8,171.6 L1339.1,173.8 L1342.4,176.0 L1345.6,178.3 L1348.7,180.6 L1351.9,183.0 L1354.9,185.5 L1358.0,188.0 L1361.0,190.6 L1363.9,193.2 L1366.9,195.9 L1369.8,198.7 L1372.6,201.4 L1375.4,204.3 L1378.2,207.1 L1381.0,210.0 L1383.8,212.9 L1386.5,215.9 L1389.2,218.9 L1391.9,221.9 L1394.6,224.9 L1397.2,228.0 L1399.8,231.1 L1402.4,234.1 L1405.0,237.2 L1407.6,240.3 L1410.2,243.5 L1412.8,246.6 L1415.3,249.7 L1417.9,252.8 L1420.4,256.0 L1423.0,259.1 L1425.5,262.2 L1428.0,265.4 L1430.5,268.5 L1433.0,271.7 L1435.4,274.9 L1437.9,278.1 L1440.4,281.2 L1442.8,284.4 L1445.3,287.6 L1447.7,290.8 L1450.1,294.0 L1452.6,297.2 L1455.0,300.4 L1457.4,303.6 L1459.8,306.8 L1462.2,310.1 L1464.5,313.3 L1466.9,316.5 L1469.3,319.8 L1471.6,323.0 L1474.0,326.2 L1476.3,329.5 L1478.7,332.7 L1481.0,336.0 L1483.3,339.3 L1485.6,342.5 L1487.9,345.8 L1490.2,349.1 L1492.5,352.3 L1494.8,355.6 L1497.1,358.9 L1499.4,362.2 L1501.7,365.5 L1503.9,368.8 L1506.2,372.1 L1508.4,375.4 L1510.7,378.7 L1512.9,382.0 L1515.2,385.3 L1517.4,388.6 L1519.6,391.9 L1521.8,395.2 L1524.1,398.6 L1526.3,401.9 L1528.5,405.2 L1530.7,408.5 L1532.9,411.9 L1535.1,415.2 L1537.3,418.5 L1539.5,421.9 L1541.6,425.2 L1543.8,428.6 L1546.0,431.9 L1548.2,435.3 L1550.3,438.6 L1552.5,442.0 L1554.7,445.3 L1556.8,448.7 L1559.0,452.0 L1561.1,455.4 L1563.3,458.7 L1565.4,462.1 L1567.6,465.5 L1569.7,468.8 L1571.9,472.2 L1574.0,475.6 L1576.1,478.9 L1578.3,482.3 L1580.4,485.7 L1582.5,489.0 L1584.7,492.4 L1586.8,495.8 L1588.9,499.2 L1591.1,502.5 L1593.2,505.9 L1595.3,509.3 L1597.4,512.7 L1599.5,516.0 L1601.7,519.4 L1603.8,522.8 L1605.9,526.2 L1608.0,529.6 L1610.2,532.9 L1612.3,536.3 L1614.4,539.7 L1616.5,543.1 L1618.6,546.5 L1620.8,549.8 L1622.9,553.2 L1625.0,556.6 L1627.1,560.0 L1629.3,563.3 L1631.4,566.7 L1633.5,570.1 L1635.6,573.5 L1637.8,576.8 L1639.9,580.2 L1642.0,583.6 L1644.2,586.9 L1646.3,590.3 L1648.4,593.7 L1650.6,597.1 L1652.7,600.4 L1654.9,603.8 L1657.0,607.1 L1659.2,610.5 L1661.3,613.9 L1663.5,617.2 L1665.6,620.6 L1667.8,623.9 L1670.0,627.3 L1672.1,630.6 L1674.3,634.0 L1676.5,637.3 L1678.6,640.7 L1680.8,644.0 L1683.0,647.4 L1685.2,650.7 L1687.4,654.1 L1689.6,657.4 L1691.8,660.7 L1694.0,664.1 L1696.2,667.4 L1698.4,670.7 L1700.6,674.0 L1702.8,677.3 L1705.1,680.7 L1707.3,684.0 L1709.5,687.3 L1711.8,690.6 L1714.0,693.9 L1716.3,697.2 L1718.5,700.5 L1720.8,703.8 L1723.0,707.1 L1725.3,710.4 L1727.6,713.7 L1729.8,717.0 L1732.1,720.3 L1734.4,723.5 L1736.7,726.8 L1739.0,730.1 L1741.3,733.4 L1743.6,736.6 L1745.9,739.9 L1748.2,743.2 L1750.5,746.4 L1752.8,749.7 L1755.1,752.9 L1757.5,756.2 L1759.8,759.4 L1762.1,762.7 L1764.5,765.9 L1766.8,769.2 L1769.2,772.4 L1771.5,775.6 L1773.9,778.8 L1776.2,782.1 L1778.6,785.3 L1781.0,788.5 L1783.4,791.7 L1785.7,794.9 L1788.1,798.1 L1790.5,801.3 L1792.9,804.5 L1795.3,807.7 L1797.7,810.9 L1800.2,814.1 L1802.6,817.3 L1805.0,820.5 L1807.4,823.6 L1809.9,826.8 L1812.3,830.0 L1814.7,833.1 L1817.2,836.3 L1819.6,839.4 L1822.1,842.6 L1824.6,845.7 L1827.0,848.9 L1829.5,852.0 L1832.0,855.2 L1834.5,858.3 L1837.0,861.4 L1839.5,864.5 L1842.0,867.6 L1844.5,870.8 L1847.0,873.9 L1849.5,877.0 L1852.0,880.1 L1854.5,883.2 L1857.1,886.2 L1859.6,889.3 L1862.2,892.4 L1864.7,895.5 L1867.3,898.6 L1869.8,901.6 L1872.4,904.7 L1875.0,907.7 L1877.5,910.8 L1880.1,913.8 L1882.7,916.9 L1885.3,919.9 L1887.9,923.0 L1890.5,926.0 L1893.1,929.0 L1895.7,932.0 L1898.4,935.0 L1901.0,938.0 L1903.6,941.0 L1906.3,944.0 L1908.9,947.0 L1911.6,950.0 L1914.2,953.0 L1916.9,956.0 L1919.6,958.9 L1922.2,961.9 L1924.9,964.9 L1927.6,967.8 L1930.3,970.8 L1933.0,973.7 L1935.7,976.7 L1938.4,979.6 L1941.1,982.5 L1943.9,985.4 L1946.6,988.4 L1949.3,991.3 L1952.1,994.2 L1954.8,997.1 L1957.6,1000.0 L1960.3,1002.9 L1963.1,1005.7 L1965.9,1008.6 L1968.7,1011.5 L1971.4,1014.4 L1974.2,1017.2 L1977.0,1020.1 L1979.8,1022.9 L1982.6,1025.8 L1985.5,1028.6 L1988.3,1031.4 L1991.1,1034.2 L1994.0,1037.1 L1996.8,1039.9 L1999.6,1042.7 L2002.5,1045.5 L2005.4,1048.3 L2008.2,1051.0 L2011.1,1053.8 L2014.0,1056.6 L2016.9,1059.4 L2019.8,1062.1 L2022.7,1064.9 L2025.6,1067.6 L2028.5,1070.4 L2031.4,1073.1 L2034.4,1075.8 L2037.3,1078.6 L2040.2,1081.3 L2043.2,1084.0 L2046.1,1086.7 L2049.1,1089.4 L2052.1,1092.1 L2055.1,1094.7 L2058.0,1097.4 L2061.0,1100.1 L2064.0,1102.7 L2067.0,1105.4 L2070.0,1108.0 L2073.1,1110.7 L2076.1,1113.3 L2079.1,1115.9 L2082.2,1118.6 L2085.2,1121.2 L2088.3,1123.8 L2091.3,1126.4 L2094.4,1128.9 L2097.5,1131.5 L2100.5,1134.1 L2103.6,1136.6 L2106.7,1139.2 L2109.8,1141.7 L2112.9,1144.3 L2116.1,1146.8 L2119.2,1149.3 L2122.3,1151.8 L2125.5,1154.3 L2128.6,1156.8 L2131.8,1159.3 L2134.9,1161.7 L2138.1,1164.2 L2141.3,1166.6 L2144.4,1169.1 L2147.6,1171.5 L2150.8,1173.9 L2154.0,1176.3 L2157.3,1178.7 L2160.5,1181.1 L2163.7,1183.4 L2166.9,1185.8 L2170.2,1188.1 L2173.4,1190.5 L2176.7,1192.8 L2180.0,1195.1 L2183.2,1197.4 L2186.5,1199.7 L2189.8,1201.9 L2193.1,1204.2 L2196.4,1206.4 L2199.7,1208.7 L2203.1,1210.9 L2206.4,1213.1 L2209.7,1215.3 L2213.1,1217.5 L2216.4,1219.6 L2219.8,1221.8 L2223.2,1223.9 L2226.5,1226.1 L2229.9,1228.2 L2233.3,1230.3 L2236.7,1232.3 L2240.1,1234.4 L2243.5,1236.5 L2247.0,1238.5 L2250.4,1240.5 L2253.8,1242.5 L2257.3,1244.5 L2260.7,1246.5 L2264.2,1248.5 L2267.7,1250.4 L2271.2,1252.4 L2274.6,1254.3 L2278.1,1256.2 L2281.6,1258.1 L2285.2,1259.9 L2288.7,1261.8 L2292.2,1263.6 L2295.8,1265.4 L2299.3,1267.2 L2302.9,1269.0 L2306.4,1270.8 L2310.0,1272.5 L2313.6,1274.3 L2317.2,1276.0 L2320.8,1277.7 L2324.4,1279.3 L2328.0,1281.0"/>
<path stroke="#008000" d="M333.5,1282.5 L368.4,1278.8 L424.4,1272.5 L480.5,1265.0 L536.5,1248.5 L540.0,1246.8 L543.7,1245.2 L547.3,1243.6 L550.9,1241.8 L554.5,1240.0 L558.0,1238.2 L561.5,1236.3 L565.0,1234.3 L568.5,1232.3 L571.9,1230.2 L575.3,1228.0 L578.6,1225.8 L581.9,1223.5 L585.2,1221.1 L588.5,1218.7 L591.7,1216.2 L594.9,1213.6 L598.0,1211.0 L601.1,1208.3 L604.2,1205.6 L607.3,1202.9 L610.4,1200.1 L613.4,1197.4 L616.5,1194.8 L619.6,1192.1 L622.6,1189.4 L625.7,1186.8 L628.7,1184.1 L631.8,1181.5 L634.8,1178.8 L637.9,1176.2 L640.9,1173.6 L643.9,1170.9 L646.9,1168.3 L649.9,1165.7 L652.9,1163.0 L655.9,1160.4 L658.8,1157.7 L661.8,1155.1 L664.7,1152.4 L667.7,1149.7 L670.6,1147.0 L673.5,1144.3 L676.4,1141.6 L679.3,1138.8 L682.1,1136.1 L685.0,1133.3 L687.9,1130.5 L690.7,1127.8 L693.5,1125.0 L696.3,1122.2 L699.1,1119.4 L701.9,1116.5 L704.7,1113.7 L707.5,1110.9 L710.3,1108.0 L713.0,1105.1 L715.7,1102.3 L718.5,1099.4 L721.2,1096.5 L723.9,1093.6 L726.6,1090.7 L729.3,1087.7 L731.9,1084.8 L734.6,1081.8 L737.2,1078.9 L739.9,1075.9 L742.5,1072.9 L745.1,1069.9 L747.7,1066.9 L750.3,1063.9 L752.9,1060.9 L755.5,1057.9 L758.1,1054.9 L760.6,1051.8 L763.2,1048.8 L765.7,1045.7 L768.2,1042.6 L770.7,1039.6 L773.2,1036.5 L775.7,1033.4 L778.2,1030.3 L780.7,1027.1 L783.2,1024.0 L785.6,1020.9 L788.0,1017.7 L790.5,1014.6 L792.9,1011.4 L795.3,1008.3 L797.7,1005.1 L800.1,1001.9 L802.5,998.7 L804.9,995.5 L807.2,992.3 L809.6,989.1 L811.9,985.9 L814.3,982.6 L816.6,979.4 L818.9,976.1 L821.2,972.9 L823.5,969.6 L825.8,966.4 L828.1,963.1 L830.4,959.8 L832.6,956.5 L834.9,953.2 L837.1,949.9 L839.3,946.6 L841.6,943.3 L843.8,939.9 L846.0,936.6 L848.2,933.3 L850.4,929.9 L852.5,926.6 L854.7,923.2 L856.9,919.8 L859.0,916.5 L861.2,913.1 L863.3,909.7 L865.4,906.3 L867.6,902.9 L869.7,899.5 L871.8,896.1 L873.9,892.7 L875.9,889.3 L878.0,885.8 L880.1,882.4 L882.1,879.0 L884.2,875.5 L886.2,872.1 L888.3,868.6 L890.3,865.2 L892.3,861.7 L894.3,858.2 L896.3,854.7 L898.3,851.3 L900.3,847.8 L902.3,844.3 L904.3,840.8 L906.2,837.3 L908.2,833.8 L910.1,830.3 L912.1,826.7 L914.0,823.2 L915.9,819.7 L917.8,816.2 L919.7,812.6 L921.6,809.1 L923.5,805.6 L925.4,802.0 L927.3,798.5 L929.2,794.9 L931.0,791.4 L932.9,787.8 L934.7,784.2 L936.6,780.7 L938.4,777.1 L940.2,773.5 L942.1,769.9 L943.9,766.3 L945.7,762.8 L947.5,759.2 L949.3,755.6 L951.0,752.0 L952.8,748.4 L954.6,744.8 L956.4,741.2 L958.1,737.6 L959.9,734.0 L961.6,730.3 L963.4,726.7 L965.1,723.1 L966.8,719.5 L968.5,715.9 L970.3,712.2 L972.0,708.6 L973.7,705.0 L975.4,701.3 L977.1,697.7 L978.8,694.1 L980.5,690.4 L982.1,686.8 L983.8,683.2 L985.5,679.5 L987.2,675.9 L988.8,672.2 L990.5,668.6 L992.1,664.9 L993.8,661.3 L995.4,657.6 L997.1,654.0 L998.7,650.3 L1000.4,646.7 L1002.0,643.0 L1003.6,639.3 L1005.3,635.7 L1006.9,632.0 L1008.5,628.4 L1010.2,624.7 L1011.8,621.1 L1013.4,617.4 L1015.0,613.7 L1016.6,610.1 L1018.2,606.4 L1019.9,602.8 L1021.5,599.1 L1023.1,595.4 L1024.7,591.8 L1026.3,588.1 L1027.9,584.5 L1029.5,580.8 L1031.1,577.1 L1032.7,573.5 L1034.3,569.8 L1035.9,566.2 L1037.5,562.5 L1039.1,558.9 L1040.7,555.2 L1042.3,551.5 L1043.9,547.9 L1045.6,544.2 L1047.2,540.6 L1048.8,536.9 L1050.4,533.3 L1052.0,529.7 L1053.6,526.0 L1055.2,522.4 L1056.8,518.7 L1058.4,515.1 L1060.1,511.4 L1061.7,507.8 L1063.3,504.2 L1064.9,500.5 L1066.5,496.9 L1068.2,493.3 L1069.8,489.6 L1071.4,486.0 L1073.1,482.4 L1074.7,478.8 L1076.4,475.1 L1078.0,471.5 L1079.6,467.9 L1081.3,464.3 L1083.0,460.6 L1084.6,457.0 L1086.3,453.4 L1087.9,449.8 L1089.6,446.2 L1091.3,442.6 L1093.0,439.0 L1094.7,435.4 L1096.4,431.8 L1098.1,428.2 L1099.8,424.6 L1101.5,421.0 L1103.2,417.4 L1104.9,413.8 L1106.6,410.2 L1108.3,406.6 L1110.1,403.0 L1111.8,399.4 L1113.6,395.8 L1115.3,392.2 L1117.1,388.7 L1118.8,385.1 L1120.6,381.5 L1122.4,377.9 L1124.2,374.3 L1126.0,370.8 L1127.8,367.2 L1129.6,363.6 L1131.4,360.1 L1133.2,356.5 L1135.0,353.0 L1136.9,349.4 L1138.7,345.8 L1140.6,342.3 L1142.4,338.7 L1144.3,335.2 L1146.2,331.6 L1148.1,328.1 L1149.9,324.6 L1151.9,321.0 L1153.8,317.5 L1155.7,313.9 L1157.6,310.4 L1159.6,306.9 L1161.5,303.4 L1163.5,299.8 L1165.4,296.3 L1167.4,292.8 L1169.4,289.3 L1171.4,285.8 L1173.4,282.3 L1175.5,278.8 L1177.5,275.3 L1179.6,271.9 L1181.7,268.4 L1183.8,265.0 L1186.0,261.6 L1188.1,258.2 L1190.3,254.8 L1192.5,251.4 L1194.8,248.1 L1197.0,244.8 L1199.3,241.5 L1201.7,238.2 L1204.0,235.0 L1206.4,231.8 L1208.8,228.6 L1211.3,225.5 L1213.8,222.4 L1216.3,219.3 L1218.9,216.3 L1221.5,213.3 L1224.2,210.3 L1226.9,207.4 L1229.6,204.6 L1232.4,201.7 L1235.2,198.9 L1238.1,196.2 L1241.1,193.5 L1244.0,190.9 L1247.1,188.3 L1250.2,185.8 L1253.3,183.3 L1256.5,180.9 L1259.7,178.5 L1263.1,176.2 L1266.4,173.9 L1269.8,171.7 L1273.3,169.6 L1276.9,167.5 L1280.4,165.6 L1284.1,163.7 L1287.7,161.9 L1291.4,160.2 L1295.2,158.6 L1298.9,157.1 L1302.7,155.8 L1306.5,154.6 L1310.4,153.4 L1314.2,152.5 L1318.1,151.6 L1322.0,151.0 L1325.9,150.4 L1329.8,150.0 L1333.6,149.8 L1337.5,149.8 L1341.4,149.9 L1345.3,150.3 L1349.1,150.8 L1352.9,151.4 L1356.7,152.3 L1360.5,153.2 L1364.3,154.4 L1368.0,155.7 L1371.7,157.1 L1375.4,158.7 L1379.0,160.4 L1382.5,162.2 L1386.1,164.2 L1389.5,166.2 L1393.0,168.4 L1396.3,170.7 L1399.7,173.0 L1403.0,175.4 L1406.2,177.9 L1409.4,180.4 L1412.6,182.9 L1415.8,185.5 L1419.0,188.0 L1422.1,190.6 L1425.2,193.2 L1428.2,195.9 L1431.3,198.5 L1434.3,201.2 L1437.3,203.9 L1440.3,206.6 L1443.2,209.3 L1446.2,212.1 L1449.1,214.8 L1451.9,217.6 L1454.8,220.4 L1457.6,223.2 L1460.4,226.1 L1463.2,228.9 L1466.0,231.8 L1468.8,234.7 L1471.5,237.6 L1474.2,240.5 L1476.9,243.5 L1479.6,246.4 L1482.2,249.4 L1484.9,252.4 L1487.5,255.4 L1490.1,258.4 L1492.7,261.4 L1495.2,264.5 L1497.8,267.5 L1500.3,270.6 L1502.8,273.7 L1505.3,276.8 L1507.8,279.9 L1510.3,283.0 L1512.7,286.1 L1515.1,289.3 L1517.6,292.4 L1520.0,295.6 L1522.4,298.8 L1524.8,302.0 L1527.1,305.2 L1529.5,308.4 L1531.8,311.6 L1534.2,314.8 L1536.5,318.1 L1538.8,321.3 L1541.1,324.6 L1543.4,327.9 L1545.7,331.1 L1547.9,334.4 L1550.2,337.7 L1552.4,341.0 L1554.7,344.3 L1556.9,347.6 L1559.1,351.0 L1561.3,354.3 L1563.5,357.6 L1565.7,361.0 L1567.9,364.3 L1570.1,367.7 L1572.3,371.0 L1574.5,374.4 L1576.6,377.8 L1578.8,381.1 L1580.9,384.5 L1583.1,387.9 L1585.2,391.3 L1587.4,394.7 L1589.5,398.1 L1591.6,401.5 L1593.8,404.9 L1595.9,408.3 L1598.0,411.7 L1600.2,415.1 L1602.3,418.5 L1604.4,421.9 L1606.5,425.3 L1608.6,428.7 L1610.8,432.1 L1612.9,435.5 L1615.0,438.9 L1617.1,442.3 L1619.2,445.7 L1621.4,449.1 L1623.5,452.6 L1625.6,456.0 L1627.7,459.4 L1629.8,462.8 L1632.0,466.2 L1634.1,469.6 L1636.2,473.0 L1638.4,476.4 L1640.5,479.8 L1642.6,483.2 L1644.8,486.6 L1646.9,489.9 L1649.1,493.3 L1651.2,496.7 L1653.3,500.1 L1655.5,503.5 L1657.6,506.9 L1659.8,510.3 L1661.9,513.7 L1664.1,517.0 L1666.2,520.4 L1668.4,523.8 L1670.6,527.2 L1672.7,530.6 L1674.9,533.9 L1677.1,537.3 L1679.2,540.7 L1681.4,544.0 L1683.6,547.4 L1685.7,550.8 L1687.9,554.1 L1690.1,557.5 L1692.3,560.9 L1694.4,564.2 L1696.6,567.6 L1698.8,571.0 L1701.0,574.3 L1703.2,577.7 L1705.4,581.0 L1707.6,584.4 L1709.8,587.7 L1712.0,591.1 L1714.2,594.4 L1716.4,597.8 L1718.6,601.1 L1720.8,604.4 L1723.0,607.8 L1725.2,611.1 L1727.4,614.4 L1729.6,617.8 L1731.9,621.1 L1734.1,624.4 L1736.3,627.8 L1738.5,631.1 L1740.8,634.4 L1743.0,637.7 L1745.2,641.1 L1747.5,644.4 L1749.7,647.7 L1751.9,651.0 L1754.2,654.3 L1756.4,657.6 L1758.7,660.9 L1760.9,664.2 L1763.2,667.6 L1765.5,670.9 L1767.7,674.2 L1770.0,677.5 L1772.2,680.8 L1774.5,684.0 L1776.8,687.3 L1779.1,690.6 L1781.3,693.9 L1783.6,697.2 L1785.9,700.5 L1788.2,703.8 L1790.5,707.0 L1792.8,710.3 L1795.1,713.6 L1797.3,716.9 L1799.6,720.1 L1802.0,723.4 L1804.3,726.7 L1806.6,729.9 L1808.9,733.2 L1811.2,736.4 L1813.5,739.7 L1815.8,743.0 L1818.2,746.2 L1820.5,749.5 L1822.8,752.7 L1825.1,755.9 L1827.5,759.2 L1829.8,762.4 L1832.2,765.7 L1834.5,768.9 L1836.9,772.1 L1839.2,775.4 L1841.6,778.6 L1843.9,781.8 L1846.3,785.0 L1848.6,788.2 L1851.0,791.5 L1853.4,794.7 L1855.8,797.9 L1858.1,801.1 L1860.5,804.3 L1862.9,807.5 L1865.3,810.7 L1867.7,813.9 L1870.1,817.1 L1872.5,820.3 L1874.9,823.5 L1877.3,826.7 L1879.7,829.9 L1882.1,833.0 L1884.5,836.2 L1887.0,839.4 L1889.4,842.6 L1891.8,845.7 L1894.2,848.9 L1896.7,852.1 L1899.1,855.2 L1901.6,858.4 L1904.0,861.5 L1906.5,864.7 L1908.9,867.8 L1911.4,871.0 L1913.8,874.1 L1916.3,877.3 L1918.8,880.4 L1921.2,883.6 L1923.7,886.7 L1926.2,889.8 L1928.7,892.9 L1931.2,896.1 L1933.6,899.2 L1936.1,902.3 L1938.6,905.4 L1941.1,908.5 L1943.7,911.6 L1946.2,914.7 L1948.7,917.8 L1951.2,920.9 L1953.7,924.0 L1956.3,927.1 L1958.8,930.2 L1961.3,933.3 L1963.9,936.4 L1966.4,939.5 L1969.0,942.5 L1971.5,945.6 L1974.1,948.7 L1976.6,951.8 L1979.2,954.8 L1981.8,957.9 L1984.3,960.9 L1986.9,964.0 L1989.5,967.0 L1992.1,970.1 L1994.7,973.1 L1997.3,976.2 L1999.9,979.2 L2002.5,982.2 L2005.1,985.3 L2007.7,988.3 L2010.3,991.3 L2012.9,994.3 L2015.6,997.3 L2018.2,1000.4 L2020.8,1003.4 L2023.5,1006.4 L2026.1,1009.4 L2028.8,1012.4 L2031.4,1015.4 L2034.1,1018.4 L2036.8,1021.3 L2039.4,1024.3 L2042.1,1027.3 L2044.8,1030.3 L2047.5,1033.3 L2050.1,1036.2 L2052.8,1039.2 L2055.5,1042.1 L2058.2,1045.1 L2060.9,1048.1 L2063.6,1051.0 L2066.4,1054.0 L2069.1,1056.9 L2071.8,1059.8 L2074.5,1062.8 L2077.3,1065.7 L2080.0,1068.6 L2082.8,1071.5 L2085.5,1074.5 L2088.3,1077.4 L2091.0,1080.3 L2093.8,1083.2 L2096.5,1086.1 L2099.3,1089.0 L2102.1,1091.9 L2104.9,1094.8 L2107.7,1097.7 L2110.5,1100.5 L2113.3,1103.4 L2116.1,1106.3 L2118.9,1109.1 L2121.7,1112.0 L2124.5,1114.9 L2127.3,1117.7 L2130.1,1120.6 L2133.0,1123.4 L2135.8,1126.2 L2138.6,1129.1 L2141.5,1131.9 L2144.3,1134.7 L2147.2,1137.5 L2150.0,1140.3 L2152.9,1143.1 L2155.7,1145.9 L2158.6,1148.7 L2161.5,1151.5 L2164.4,1154.3 L2167.2,1157.1 L2170.1,1159.9 L2173.0,1162.6 L2175.9,1165.4 L2178.8,1168.2 L2181.7,1170.9 L2184.6,1173.6 L2187.5,1176.4 L2190.5,1179.1 L2193.4,1181.8 L2196.3,1184.6 L2199.2,1187.3 L2202.2,1190.0 L2205.1,1192.7 L2208.1,1195.4 L2211.0,1198.1 L2214.0,1200.8 L2216.9,1203.4 L2219.9,1206.1 L2222.8,1208.8 L2225.8,1211.4 L2228.8,1214.0 L2231.8,1216.7 L2234.8,1219.3 L2237.8,1221.9 L2240.9,1224.4 L2243.9,1227.0 L2247.0,1229.5 L2250.1,1232.0 L2253.2,1234.5 L2256.3,1237.0 L2259.4,1239.4 L2262.6,1241.9 L2265.8,1244.2 L2269.0,1246.6 L2272.2,1248.9 L2275.4,1251.2 L2278.7,1253.5 L2282.0,1255.7 L2285.4,1257.9 L2288.7,1260.1 L2292.1,1262.2 L2295.6,1264.3 L2299.0,1266.3 L2302.5,1268.3 L2306.0,1270.3 L2309.6,1272.2 L2313.2,1274.0 L2316.8,1275.8 L2320.5,1277.6 L2324.2,1279.3 L2328.0,1281.0"/>
</g>
<path d="M312.4,1282.0H271.5 M312.4,1105.3H271.5 M312.4,928.6H271.5 M312.4,751.8H271.5 M312.4,575.1H271.5 M312.4,398.4H271.5 M312.4,221.7H271.5 M312.4,45.0H271.5 M312.4,1370.4H292 M312.4,1193.6H292 M312.4,1016.9H292 M312.4,840.2H292 M312.4,663.5H292 M312.4,486.8H292 M312.4,310.0H292 M312.4,133.3H292 M368.4,1370.4V1409 M592.5,1370.4V1409 M816.7,1370.4V1409 M1040.8,1370.4V1409 M1265.0,1370.4V1409 M1489.1,1370.4V1409 M1713.2,1370.4V1409 M1937.4,1370.4V1409 M2161.5,1370.4V1409 M480.5,1370.4V1388 M704.6,1370.4V1388 M928.8,1370.4V1388 M1152.9,1370.4V1388 M1377.0,1370.4V1388 M1601.2,1370.4V1388 M1825.3,1370.4V1388 M2049.5,1370.4V1388 M2273.6,1370.4V1388" stroke="#000" stroke-width="8" stroke-linecap="round" fill="none"/>
<rect x="312.4" y="45.0" width="2016.2" height="1325.4" fill="none" stroke="#000" stroke-width="8" stroke-linejoin="round"/>
<g font-size="78" fill="#000"><text x="256.5" y="1309.2" text-anchor="end">0.0</text><text x="256.5" y="1132.5" text-anchor="end">0.2</text><text x="256.5" y="955.8" text-anchor="end">0.4</text><text x="256.5" y="779.0" text-anchor="end">0.6</text><text x="256.5" y="602.3" text-anchor="end">0.8</text><text x="256.5" y="425.6" text-anchor="end">1.0</text><text x="256.5" y="248.9" text-anchor="end">1.2</text><text x="256.5" y="72.2" text-anchor="end">1.4</text><text x="368.4" y="1480" text-anchor="middle">4.0</text><text x="592.5" y="1480" text-anchor="middle">4.2</text><text x="816.7" y="1480" text-anchor="middle">4.4</text><text x="1040.8" y="1480" text-anchor="middle">4.6</text><text x="1265.0" y="1480" text-anchor="middle">4.8</text><text x="1489.1" y="1480" text-anchor="middle">5.0</text><text x="1713.2" y="1480" text-anchor="middle">5.2</text><text x="1937.4" y="1480" text-anchor="middle">5.4</text><text x="2161.5" y="1480" text-anchor="middle">5.6</text></g>
<text x="1322" y="1586.6" font-size="105.5" text-anchor="middle">log M (g/mol)</text>
<text transform="translate(101,650.4) rotate(-90)" font-size="106" text-anchor="middle">dW/d(log M)</text>
<path d="M354.5,110.8H501.5" stroke="#000000" stroke-width="7" stroke-linecap="round"/>
<text x="519.5" y="133.3" font-size="65.5" fill="#000000">PBS</text>
<path d="M354.5,192.0H501.5" stroke="#ff0000" stroke-width="7" stroke-linecap="round"/>
<text x="519.5" y="214.5" font-size="65.5" fill="#ff0000">P(BS-BMS)10%</text>
<path d="M354.5,273.2H501.5" stroke="#0000ff" stroke-width="7" stroke-linecap="round"/>
<text x="519.5" y="295.7" font-size="65.5" fill="#0000ff">P(BS-BMS)20%</text>
<path d="M354.5,354.4H501.5" stroke="#ff00ff" stroke-width="7" stroke-linecap="round"/>
<text x="519.5" y="376.9" font-size="65.5" fill="#ff00ff">P(BS-BMS)30%</text>
<path d="M354.5,435.6H501.5" stroke="#008000" stroke-width="7" stroke-linecap="round"/>
<text x="519.5" y="458.1" font-size="65.5" fill="#008000">P(BS-BMS)50%</text></svg>
</body></html>
